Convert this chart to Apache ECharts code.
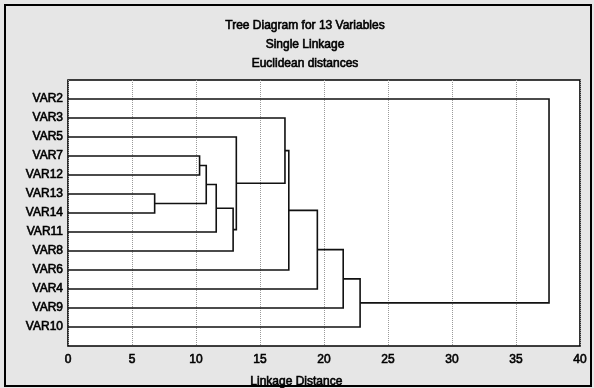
<!DOCTYPE html>
<html>
<head>
<meta charset="utf-8">
<script src="https://cdn.jsdelivr.net/npm/echarts@6/dist/echarts.min.js"></script>
<style>
  html, body { margin: 0; padding: 0; background: #e6e6e6; }
  #chart { width: 594px; height: 388px; }
</style>
</head>
<body>
<div id="chart"></div>
<script>
// leaves, top to bottom
const leaves = ['VAR2', 'VAR3', 'VAR5', 'VAR7', 'VAR12', 'VAR13', 'VAR14', 'VAR11', 'VAR8', 'VAR6', 'VAR4', 'VAR9', 'VAR10'];

// merges in order; C<n> is the cluster made by the n-th merge
const mergeA = ['VAR13', 'VAR7', 'C2', 'C3', 'C4', 'VAR5', 'VAR3', 'C7', 'C8', 'C9', 'C10', 'VAR2'];
const mergeB = ['VAR14', 'VAR12', 'C1', 'VAR11', 'VAR8', 'C5', 'C6', 'VAR6', 'VAR4', 'VAR9', 'VAR10', 'C11'];
const mergeDist = [6.77, 10.28, 10.8, 11.58, 12.9, 13.15, 16.95, 17.25, 19.48, 21.5, 22.82, 37.58];

const xTicks = [0, 5, 10, 15, 20, 25, 30, 35, 40];
const titles = ['Tree Diagram for 13 Variables', 'Single Linkage', 'Euclidean distances'];

// node positions: y is the row (1-based), x is the linkage distance
const nodes = {};
leaves.forEach((name, i) => { nodes[name] = { y: i + 1, x: 0 }; });
const links = mergeDist.map((d, i) => {
  const a = nodes[mergeA[i]];
  const b = nodes[mergeB[i]];
  nodes['C' + (i + 1)] = { y: (a.y + b.y) / 2, x: d };
  return [d, a.x, a.y, b.x, b.y];
});

const chart = echarts.init(document.getElementById('chart'), null, { renderer: 'canvas' });

const font = '"Liberation Sans", Arial, sans-serif';
// the scanned text is heavy, thicken it a little without widening it
const heavy = { textBorderColor: '#000', textBorderWidth: 0.6 };

const option = {
  backgroundColor: '#e6e6e6',
  animation: false,
  title: titles.map((t, i) => ({
    text: t,
    left: 300,
    top: 15 + i * 19,
    textAlign: 'center',
    textStyle: Object.assign({ fontFamily: font, fontSize: 12, fontWeight: 'normal', color: '#000' }, heavy)
  })),
  graphic: [
    {
      type: 'rect',
      shape: { x: 5, y: 5, width: 586, height: 381 },
      style: { fill: 'none', stroke: '#000', lineWidth: 2 },
      silent: true
    },
    {
      type: 'text',
      left: 250,
      top: 375,
      style: { text: 'Linkage Distance', font: '12px ' + font, fill: '#000', stroke: '#000', lineWidth: 0.6 }
    }
  ],
  grid: {
    left: 68,
    right: 14,
    top: 80,
    bottom: 42,
    show: true,
    backgroundColor: '#fff',
    borderColor: '#000',
    borderWidth: 1.6
  },
  xAxis: {
    type: 'value',
    min: xTicks[0],
    max: xTicks[xTicks.length - 1],
    interval: 5,
    axisLine: { show: false },
    axisTick: { show: false },
    axisLabel: Object.assign({ color: '#000', fontFamily: font, fontSize: 12, margin: 8 }, heavy),
    splitLine: { show: true, lineStyle: { color: '#9a9a9a', type: 'dotted', width: 1 } }
  },
  yAxis: {
    type: 'value',
    inverse: true,
    min: 0,
    max: leaves.length + 1,
    interval: 1,
    axisLine: { show: false },
    axisTick: { show: false },
    splitLine: { show: false },
    axisLabel: Object.assign({
      color: '#000',
      fontFamily: font,
      fontSize: 12,
      margin: 5,
      formatter: v => leaves[v - 1] || ''
    }, heavy)
  },
  series: [
    {
      type: 'custom',
      coordinateSystem: 'cartesian2d',
      data: links,
      encode: { x: 0 },
      renderItem: (params, api) => {
        const d = api.value(0);
        const ax = api.value(1), ay = api.value(2);
        const bx = api.value(3), by = api.value(4);
        return {
          type: 'polyline',
          shape: {
            points: [
              api.coord([ax, ay]),
              api.coord([d, ay]),
              api.coord([d, by]),
              api.coord([bx, by])
            ]
          },
          style: { stroke: '#111', lineWidth: 1.6, fill: null }
        };
      }
    }
  ]
};

chart.setOption(option);
</script>
</body>
</html>
